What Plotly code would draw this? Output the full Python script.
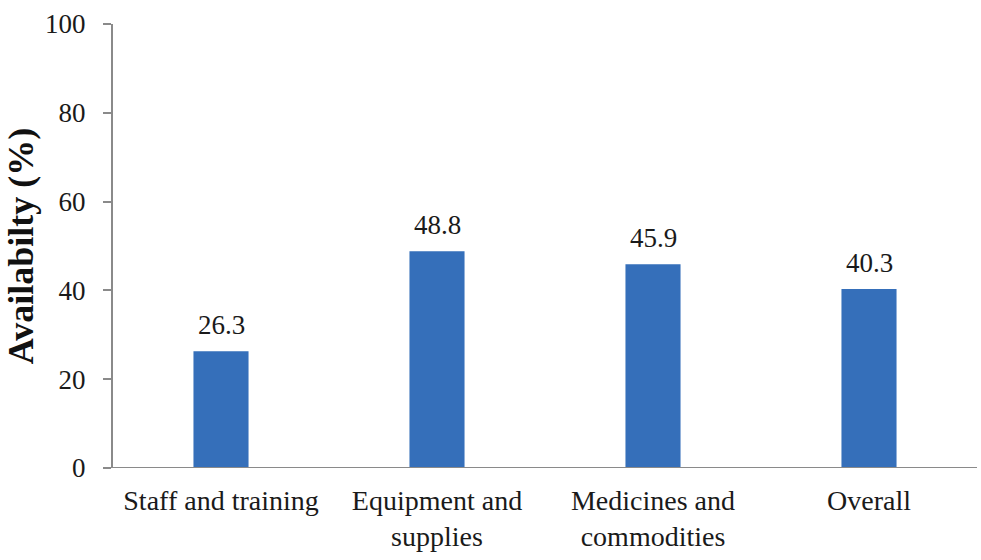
import plotly.graph_objects as go

# Availability by domain (%)
categories = ["Staff and training", "Equipment and<br>supplies", "Medicines and<br>commodities", "Overall"]
availability = [26.3, 48.8, 45.9, 40.3]
y_ticks = [0, 20, 40, 60, 80, 100]

FONT = "Liberation Serif"
AXIS_GREY = "#8a8a8a"
BAR_BLUE = "#356fba"
TEXT = "#1a1a1a"
SIZE = 27

fig = go.Figure()
fig.add_trace(go.Bar(
    x=categories,
    y=availability,
    marker=dict(color=BAR_BLUE, line=dict(width=0)),
    width=0.255,
    hoverinfo="x+y",
))

# value labels above each bar
for cat, val in zip(categories, availability):
    fig.add_annotation(
        x=cat, y=val, text=f"{val:.1f}", showarrow=False,
        yanchor="bottom", yshift=9,
        font=dict(family=FONT, size=SIZE, color=TEXT),
    )

# baseline of the category axis, extending slightly past the value axis
fig.add_shape(
    type="line", xref="paper", yref="y",
    x0=-0.0095, x1=1, y0=0, y1=0,
    line=dict(color=AXIS_GREY, width=2),
)

fig.update_layout(
    width=981, height=560,
    margin=dict(l=113, r=4, t=24, b=92),
    paper_bgcolor="white", plot_bgcolor="white",
    showlegend=False,
    font=dict(family=FONT, size=SIZE, color=TEXT),
    xaxis=dict(
        showline=False, showgrid=False, zeroline=False, ticks="",
        tickfont=dict(family=FONT, size=28, color=TEXT),
        ticklabelstandoff=13, automargin=False,
    ),
    yaxis=dict(
        range=[0, 100], tickvals=y_ticks,
        showgrid=False, zeroline=False,
        showline=True, linecolor=AXIS_GREY, linewidth=2,
        ticks="outside", ticklen=8, tickwidth=2, tickcolor=AXIS_GREY,
        tickfont=dict(family=FONT, size=SIZE, color=TEXT),
        ticklabelstandoff=12, automargin=False,
        title=dict(text="<b>Availabilty (%)</b>", standoff=0,
                   font=dict(family=FONT, size=36, color="#111111")),
    ),
)

fig.write_html("out.html")
